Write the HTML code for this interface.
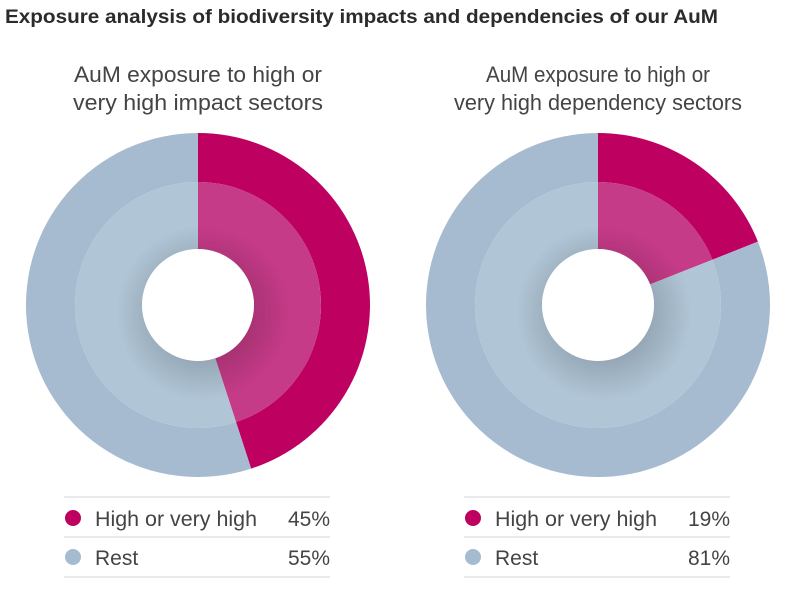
<!DOCTYPE html>
<html><head><meta charset="utf-8"><style>
html,body{margin:0;padding:0;background:#fff;}
svg{display:block;font-family:"Liberation Sans Narrow","Liberation Sans",sans-serif;}
</style></head><body>
<svg id="chart" width="800" height="602" viewBox="0 0 800 602">
<defs>
<radialGradient id="shade" cx="0.5" cy="0.5" r="0.5">
<stop offset="0.5" stop-color="#000" stop-opacity="0.16"/>
<stop offset="1" stop-color="#000" stop-opacity="0"/>
</radialGradient>
</defs>
<text x="5" y="23" font-size="19" font-weight="bold" fill="#2b2b2b" textLength="713" lengthAdjust="spacingAndGlyphs">Exposure analysis of biodiversity impacts and dependencies of our AuM</text>
<g id="donuts"></g>
</svg>
<script>
const panelTitles1 = ["AuM exposure to high or", "very high impact sectors"];
const panelTitles2 = ["AuM exposure to high or", "very high dependency sectors"];
const categories = ["High or very high", "Rest"];
const impactValues = [45, 55];
const dependencyValues = [19, 81];

const NS = "http://www.w3.org/2000/svg";
const root = document.getElementById("donuts");
const outerCol = ["#be0060", "#a6bbd0"];
const innerCol = ["#c63b88", "#b0c5d6"];

function mk(tag, attrs, parent) {
  const e = document.createElementNS(NS, tag);
  for (const k in attrs) e.setAttribute(k, attrs[k]);
  parent.appendChild(e);
  return e;
}
function angleScale(v, total) { return v / total * Math.PI * 2; }
function arcPath(cx, cy, r0, r1, a0, a1) {
  const large = (a1 - a0) > Math.PI ? 1 : 0;
  const p = (r, a) => [cx + r * Math.sin(a), cy - r * Math.cos(a)];
  const [x0, y0] = p(r1, a0), [x1, y1] = p(r1, a1), [x2, y2] = p(r0, a1), [x3, y3] = p(r0, a0);
  return `M${x0},${y0}A${r1},${r1} 0 ${large} 1 ${x1},${y1}L${x2},${y2}A${r0},${r0} 0 ${large} 0 ${x3},${y3}Z`;
}

function drawPanel(cx, titles, t1len, t2len, values, legX0, legX1, key) {
  const g = mk("g", {}, root);
  
  
  const tl = mk("text", {x: cx, y: 82, "text-anchor": "middle", "font-size": 22, fill: "#444", textLength: t1len, lengthAdjust: "spacingAndGlyphs"}, g);
  tl.textContent = titles[0];
  
  
  const t2 = mk("text", {x: cx, y: 110, "text-anchor": "middle", "font-size": 22, fill: "#444", textLength: t2len, lengthAdjust: "spacingAndGlyphs"}, g);
  t2.textContent = titles[1];
  
  

  const cy = 305, R = 172, Ri = 123, Rh = 56;
  const total = values.reduce((a, b) => a + b, 0);
  let a = 0;
  values.forEach((v, i) => {
    const a1 = a + angleScale(v, total);
    const o = mk("path", {d: arcPath(cx, cy, Ri, R, a, a1), fill: outerCol[i]}, g);
    
    
    const n = mk("path", {d: arcPath(cx, cy, Rh, Ri, a, a1), fill: innerCol[i]}, g);
    
    
    a = a1;
  });
  const sh = mk("circle", {cx: cx + 6, cy: cy + 8, r: 88, fill: "url(#shade)"}, g);
  
  
  const h = mk("circle", {cx: cx, cy: cy, r: Rh, fill: "#fff"}, g);
  
  

  [497, 537, 577].forEach((y, j) => {
    const l = mk("line", {x1: legX0, x2: legX1, y1: y, y2: y, stroke: "#d4d4d4", "stroke-width": 1}, g);
    
    
  });
  categories.forEach((c, i) => {
    const y = 518 + i * 39;
    const d = mk("circle", {cx: legX0 + 9, cy: y, r: 8, fill: outerCol[i]}, g);
    
    
    const t = mk("text", {x: legX0 + 31, y: y + 8, "font-size": 21, fill: "#444"}, g);
    t.textContent = c;
    if (i === 0) { t.setAttribute("textLength", 162); t.setAttribute("lengthAdjust", "spacingAndGlyphs"); }
    
    
    const p = mk("text", {x: legX1, y: y + 8, "font-size": 21, fill: "#444", "text-anchor": "end"}, g);
    p.textContent = values[i] + "%";
    
    
  });
}
drawPanel(198, panelTitles1, 248, 250, impactValues, 64, 330, "impact");
drawPanel(598, panelTitles2, 224, 288, dependencyValues, 464, 730, "dependency");
</script>
</body></html>
